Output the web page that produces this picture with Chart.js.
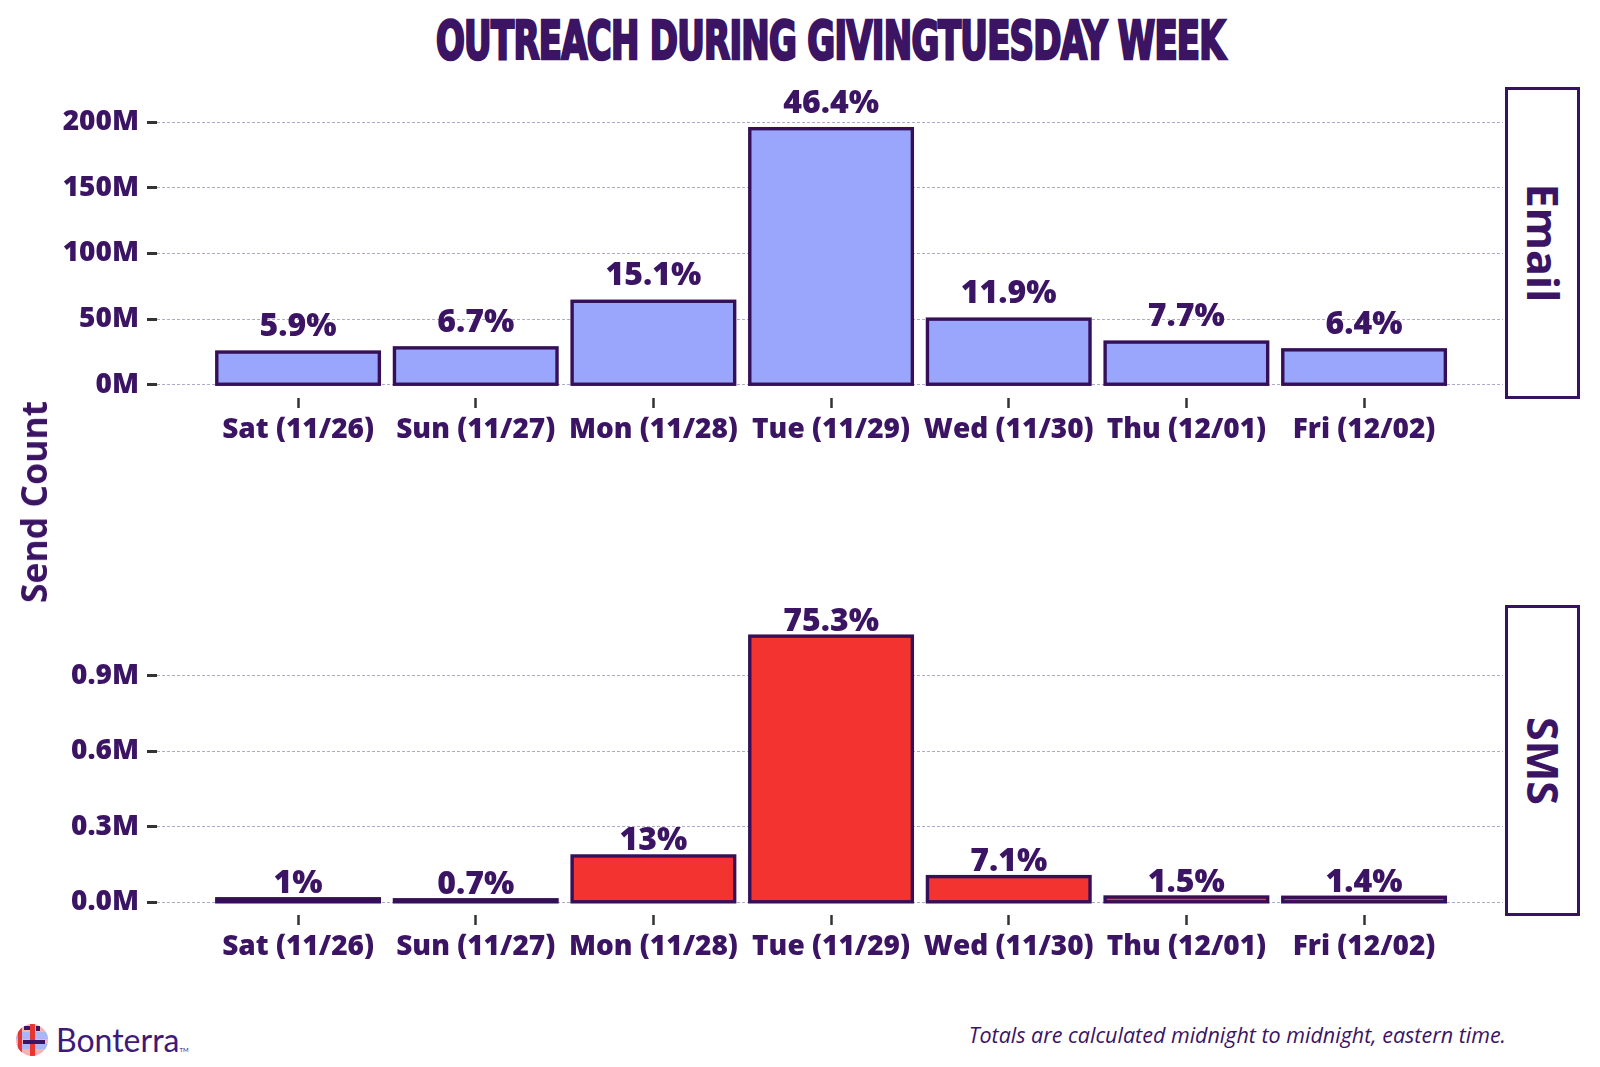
<!DOCTYPE html>
<html>
<head>
<meta charset="utf-8">
<script src="https://cdn.jsdelivr.net/npm/chart.js@4.4.1/dist/chart.umd.min.js"></script>
<style>
  html, body { margin:0; padding:0; background:#ffffff; }
  body { width:1600px; height:1067px; position:relative; overflow:hidden; font-family:"Open Sans", sans-serif; color:#3b1464; }
  #title { position:absolute; left:436px; top:14px; font-family:"Liberation Sans Narrow","DejaVu Sans Condensed",sans-serif; font-weight:700; font-size:53px; line-height:53px; white-space:nowrap; color:#3b1464; -webkit-text-stroke:2.6px #3b1464; letter-spacing:-1px; transform-origin:0 0; }
  canvas { position:absolute; left:0; }
  .strip { position:absolute; box-sizing:border-box; border:3px solid #371260; background:#fff; }
  .strip span { position:absolute; left:50%; top:50%; white-space:nowrap; font-family:"Open Sans",sans-serif; font-weight:700; font-size:43px; color:#3b1464; transform:translate(-50%,-50%) rotate(90deg); }
  #ylab { position:absolute; left:33px; top:502px; white-space:nowrap; font-weight:700; font-size:35.5px; color:#3b1464; transform:translate(-50%,-50%) rotate(-90deg); }
  #brand { position:absolute; left:56px; top:1022px; font-family:Lato,"Noto Sans",sans-serif; font-size:32px; line-height:36px; color:#3d1a7a; white-space:nowrap; }
  #brand sup { font-size:6px; vertical-align:baseline; }
  #note { position:absolute; right:94px; top:1022px; font-style:italic; font-size:21.5px; line-height:26px; color:#3b1464; white-space:nowrap; }
</style>
</head>
<body>
<div id="title">OUTREACH DURING GIVINGTUESDAY WEEK</div>
<canvas id="emailChart" width="1600" height="460" style="top:0px;width:1600px;height:460px"></canvas>
<canvas id="smsChart" width="1600" height="460" style="top:520px;width:1600px;height:460px"></canvas>
<div class="strip" style="left:1505px;top:87px;width:75px;height:312px"><span>Email</span></div>
<div class="strip" style="left:1505px;top:605px;width:75px;height:311px"><span>SMS</span></div>
<div id="ylab">Send Count</div>
<svg width="34" height="34" viewBox="0 0 34 34" style="position:absolute;left:15px;top:1023px">
  <defs><clipPath id="lc"><circle cx="17" cy="17" r="16"/></clipPath></defs>
  <g clip-path="url(#lc)">
    <rect width="34" height="34" fill="#f6b3b5"/>
    <rect x="0" y="9" width="34" height="7" fill="#a9b6f7"/>
    <rect x="0" y="21" width="34" height="5" fill="#a9b6f7"/>
    <rect x="3" y="0" width="4" height="34" fill="#e8352f"/>
    <rect x="15" y="0" width="5" height="34" fill="#e8352f"/>
    <rect x="9" y="3" width="6" height="4" fill="#3b1464"/>
    <rect x="8" y="17" width="22" height="4" fill="#3b1464"/>
    <rect x="21" y="3" width="4" height="5" fill="#3b1464"/>
  </g>
</svg>
<div id="brand">Bonterra<sup>TM</sup></div>
<div id="note">Totals are calculated midnight to midnight, eastern time.</div>

<script>
// ---- data ----
const categories = ['Sat (11/26)', 'Sun (11/27)', 'Mon (11/28)', 'Tue (11/29)', 'Wed (11/30)', 'Thu (12/01)', 'Fri (12/02)'];
const emailValues = [24.9, 28.1, 63.6, 195.1, 50.0, 32.5, 26.6];      // millions
const emailPct = ['5.9%', '6.7%', '15.1%', '46.4%', '11.9%', '7.7%', '6.4%'];
const smsValues = [0.014, 0.010, 0.184, 1.057, 0.102, 0.021, 0.020];   // millions
const smsPct = ['1%', '0.7%', '13%', '75.3%', '7.1%', '1.5%', '1.4%'];
const emailTicks = [0, 50, 100, 150, 200];
const emailTickLabels = ['0M', '50M', '100M', '150M', '200M'];
const smsTicks = [0, 0.3, 0.6, 0.9];
const smsTickLabels = ['0.0M', '0.3M', '0.6M', '0.9M'];

const TEXT = '#3b1464';
const BORDER = '#351059';

// Bars: fill the element's rectangle, then stroke its outline centred on the edge
// (so very small bars still show a full outline, as in the reference).
Chart.BarElement.prototype.draw = function (ctx) {
  const { x, y, base, width } = this.getProps(['x', 'y', 'base', 'width']);
  const o = this.options;
  const left = x - width / 2;
  const top = Math.min(y, base);
  const h = Math.abs(base - y);
  const bw = typeof o.borderWidth === 'number' ? o.borderWidth : 3;
  ctx.save();
  ctx.fillStyle = o.backgroundColor;
  ctx.fillRect(left, top, width, h);
  ctx.lineWidth = bw;
  ctx.lineJoin = 'miter';
  ctx.strokeStyle = o.borderColor;
  ctx.strokeRect(left, top, width, h);
  ctx.restore();
};

const pctLabels = {
  id: 'pctLabels',
  afterDatasetsDraw(chart, args, opts) {
    const ctx = chart.ctx;
    const meta = chart.getDatasetMeta(0);
    ctx.save();
    ctx.font = '800 32px "Open Sans"';
    ctx.fillStyle = TEXT;
    ctx.textAlign = 'center';
    ctx.textBaseline = 'alphabetic';
    meta.data.forEach((bar, i) => {
      ctx.fillText(opts.labels[i], bar.x, bar.y - opts.gap);
    });
    ctx.restore();
  }
};

function makeChart(id, values, pct, color, yMin, yMax, ticks, tickLabels, padTop, padBottom, gap) {
  return new Chart(document.getElementById(id), {
    type: 'bar',
    data: {
      datasets: [{
        data: values.map((v, i) => ({ x: i, y: v })),
        backgroundColor: color,
        borderColor: BORDER,
        borderWidth: 3.4,
        borderSkipped: false,
        barPercentage: 0.915,
        categoryPercentage: 1.0
      }]
    },
    plugins: [pctLabels],
    options: {
      responsive: false,
      animation: false,
      devicePixelRatio: 1,
      layout: { padding: { left: 0, right: 97, top: padTop, bottom: padBottom } },
      plugins: {
        legend: { display: false },
        tooltip: { enabled: false },
        pctLabels: { labels: pct, gap: gap }
      },
      scales: {
        x: {
          type: 'linear',
          offset: false,
          min: -0.794,
          max: 6.782,
          afterBuildTicks: s => { s.ticks = categories.map((c, i) => ({ value: i })); },
          afterFit: s => { s.height = 50; },
          ticks: {
            autoSkip: false, maxRotation: 0, minRotation: 0, padding: 5,
            color: TEXT,
            font: { family: 'Open Sans', weight: '800', size: 28 },
            callback: v => categories[v]
          },
          grid: { display: true, offset: false, drawOnChartArea: false, drawTicks: true, tickLength: 10, tickColor: '#333333', tickWidth: 2.5 },
          border: { display: false }
        },
        y: {
          type: 'linear',
          min: yMin,
          max: yMax,
          afterBuildTicks: s => { s.ticks = ticks.map(v => ({ value: v })); },
          afterFit: s => { s.width = 157; },
          ticks: {
            padding: 8,
            color: TEXT,
            font: { family: 'Open Sans', weight: '800', size: 28 },
            callback: v => tickLabels[ticks.indexOf(v)]
          },
          grid: { color: '#b1abcb', lineWidth: 1, drawTicks: true, tickLength: 10, tickColor: '#333333', tickWidth: 3, tickBorderDash: [] },
          border: { display: false, dash: [3, 2] }
        }
      }
    }
  });
}

function draw() {
  const t = document.getElementById('title');
  const w = t.offsetWidth;
  t.style.transform = 'scaleX(' + (789 / w) + ')';
  makeChart('emailChart', emailValues, emailPct, '#9aa6fb', -10.1, 226.1, emailTicks, emailTickLabels, 88, 12, 16);
  makeChart('smsChart', smsValues, smsPct, '#f2332f', -0.0504, 1.1767, smsTicks, smsTickLabels, 86, 15, 5.5);
}
if (document.fonts && document.fonts.ready) {
  Promise.all([
    document.fonts.load('700 28px "Open Sans"'),
    document.fonts.load('800 28px "Open Sans"'),
    document.fonts.load('700 53px "Liberation Sans Narrow"')
  ]).catch(() => {}).then(() => document.fonts.ready).then(draw);
} else { draw(); }
</script>
</body>
</html>
